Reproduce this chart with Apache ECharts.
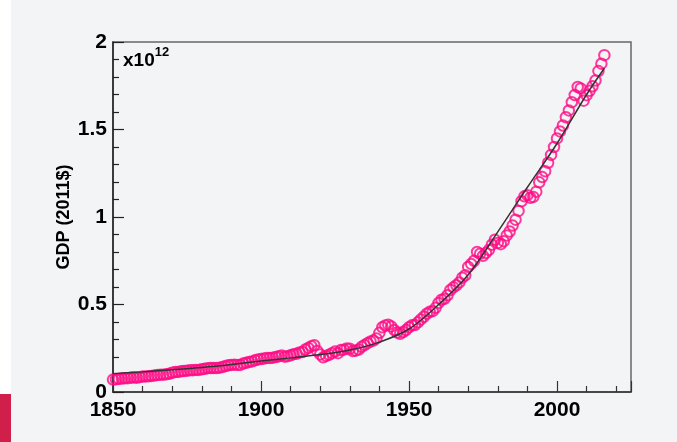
<!DOCTYPE html>
<html>
<head>
<meta charset="utf-8">
<script src="https://cdn.jsdelivr.net/npm/echarts@6/dist/echarts.min.js"></script>
<style>
html,body{margin:0;padding:0;background:#ffffff;}
#chart{width:677px;height:442px;}
</style>
</head>
<body>
<div id="chart"></div>
<script>
// GDP (x10^12, 2011$), annual 1850-2016
var startYear = 1850;
var gdpValues = [
  0.071, 0.073, 0.075, 0.077, 0.078, 0.079, 0.082, 0.083, 0.082, 0.085,
  0.088, 0.089, 0.090, 0.092, 0.094, 0.097, 0.099, 0.099, 0.101, 0.104,
  0.110, 0.114, 0.115, 0.118, 0.120, 0.122, 0.124, 0.125, 0.126, 0.126,
  0.130, 0.133, 0.136, 0.137, 0.137, 0.137, 0.139, 0.143, 0.148, 0.153,
  0.155, 0.156, 0.155, 0.155, 0.163, 0.167, 0.172, 0.175, 0.181, 0.186,
  0.188, 0.191, 0.195, 0.194, 0.196, 0.200, 0.204, 0.208, 0.202, 0.205,
  0.210, 0.216, 0.218, 0.226, 0.228, 0.243, 0.252, 0.262, 0.267, 0.235,
  0.215, 0.198, 0.206, 0.213, 0.222, 0.231, 0.222, 0.240, 0.242, 0.249,
  0.247, 0.234, 0.236, 0.243, 0.258, 0.268, 0.279, 0.289, 0.294, 0.306,
  0.338, 0.370, 0.380, 0.385, 0.375, 0.355, 0.340, 0.333, 0.343, 0.354,
  0.370, 0.381, 0.383, 0.398, 0.415, 0.430, 0.447, 0.458, 0.462, 0.481,
  0.509, 0.527, 0.533, 0.553, 0.583, 0.598, 0.610, 0.626, 0.653, 0.667,
  0.715, 0.732, 0.750, 0.800, 0.790, 0.778, 0.795, 0.812, 0.842, 0.870,
  0.852, 0.845, 0.862, 0.895, 0.917, 0.951, 0.985, 1.035, 1.090, 1.118,
  1.125, 1.110, 1.115, 1.145, 1.198, 1.228, 1.262, 1.310, 1.355, 1.400,
  1.449, 1.489, 1.523, 1.570, 1.609, 1.656, 1.697, 1.743, 1.735, 1.665,
  1.696, 1.721, 1.747, 1.780, 1.834, 1.876, 1.925
];
// fitted trend line
var fitYears  = [1850, 1860, 1870, 1880, 1890, 1900, 1910, 1920, 1930, 1940, 1950, 1960, 1970, 1980, 1990, 2000, 2010, 2016];
var fitValues = [0.105, 0.115, 0.127, 0.140, 0.157, 0.177, 0.195, 0.214, 0.240, 0.285, 0.360, 0.500, 0.670, 0.915, 1.170, 1.420, 1.700, 1.850];
var xTicks = [1850, 1900, 1950, 2000];
var yTicks = [0, 0.5, 1, 1.5, 2];
var yName = 'GDP (2011$)';
var scaleBase = 'x10';
var scaleExp = '12';

var scatterData = gdpValues.map(function (v, i) { return [startYear + i, v]; });
var fitData = fitYears.map(function (y, i) { return [y, fitValues[i]]; });

var font = 'Liberation Sans, Arial, sans-serif';
var chart = echarts.init(document.getElementById('chart'), null, {renderer: 'canvas'});
chart.setOption({
  backgroundColor: '#ffffff',
  animation: false,
  graphic: [
    {type: 'rect', left: 11, top: 0, shape: {x: 0, y: 0, width: 666, height: 442}, style: {fill: '#f3f4f6'}, z: -10, silent: true},
    {type: 'rect', left: 0, top: 394, shape: {x: 0, y: 0, width: 11, height: 48}, style: {fill: '#d11f4b'}, z: -9, silent: true},
    {type: 'text', left: 123, top: 46, z: 10,
      style: {
        text: '{b|' + scaleBase + '}{s|' + scaleExp + '}',
        rich: {
          b: {fontFamily: font, fontWeight: 'bold', fontSize: 19, fill: '#000', verticalAlign: 'bottom', lineHeight: 24},
          s: {fontFamily: font, fontWeight: 'bold', fontSize: 13, fill: '#000', verticalAlign: 'top', padding: [0, 0, 9, 0], lineHeight: 24}
        }
      }
    }
  ],
  grid: {left: 113, right: 46, top: 42, bottom: 50, show: true, borderColor: '#666', borderWidth: 1.5, backgroundColor: 'transparent'},
  xAxis: {
    type: 'value', min: 1850, max: 2025, interval: 50,
    axisLine: {show: true, lineStyle: {color: '#333', width: 1.5}},
    axisTick: {show: true, inside: true, length: 11, lineStyle: {color: '#333', width: 1.2}},
    minorTick: {show: true, splitNumber: 5, length: 6, lineStyle: {color: '#333', width: 1.2}},
    splitLine: {show: false},
    axisLabel: {
      fontFamily: font, fontWeight: 'bold', fontSize: 21, color: '#000', margin: 8,
      showMaxLabel: false,
      formatter: function (v) { return xTicks.indexOf(v) >= 0 ? String(v) : ''; }
    }
  },
  yAxis: {
    type: 'value', min: 0, max: 2, interval: 0.5,
    name: yName, nameLocation: 'middle', nameGap: 40, nameRotate: 90,
    nameMoveOverlap: false,
    nameTextStyle: {fontFamily: font, fontWeight: 'bold', fontSize: 18, color: '#000'},
    axisLine: {show: true, lineStyle: {color: '#222', width: 1.5}},
    axisTick: {show: true, inside: true, length: 11, lineStyle: {color: '#222', width: 1.2}},
    minorTick: {show: true, splitNumber: 5, length: 6, lineStyle: {color: '#222', width: 1.2}},
    splitLine: {show: false},
    axisLabel: {
      fontFamily: font, fontWeight: 'bold', fontSize: 21, color: '#000', margin: 6,
      formatter: function (v) { return yTicks.indexOf(v) >= 0 ? String(v) : ''; }
    }
  },
  series: [
    {
      type: 'scatter', data: scatterData, symbol: 'circle', symbolSize: 10.5,
      itemStyle: {color: 'rgba(0,0,0,0)', borderColor: '#ff0a85', borderWidth: 2},
      z: 2
    },
    {
      type: 'line', data: fitData, smooth: 0.35, showSymbol: false, symbol: 'none',
      lineStyle: {color: '#333', width: 1.5},
      z: 3
    }
  ]
});
</script>
</body>
</html>
